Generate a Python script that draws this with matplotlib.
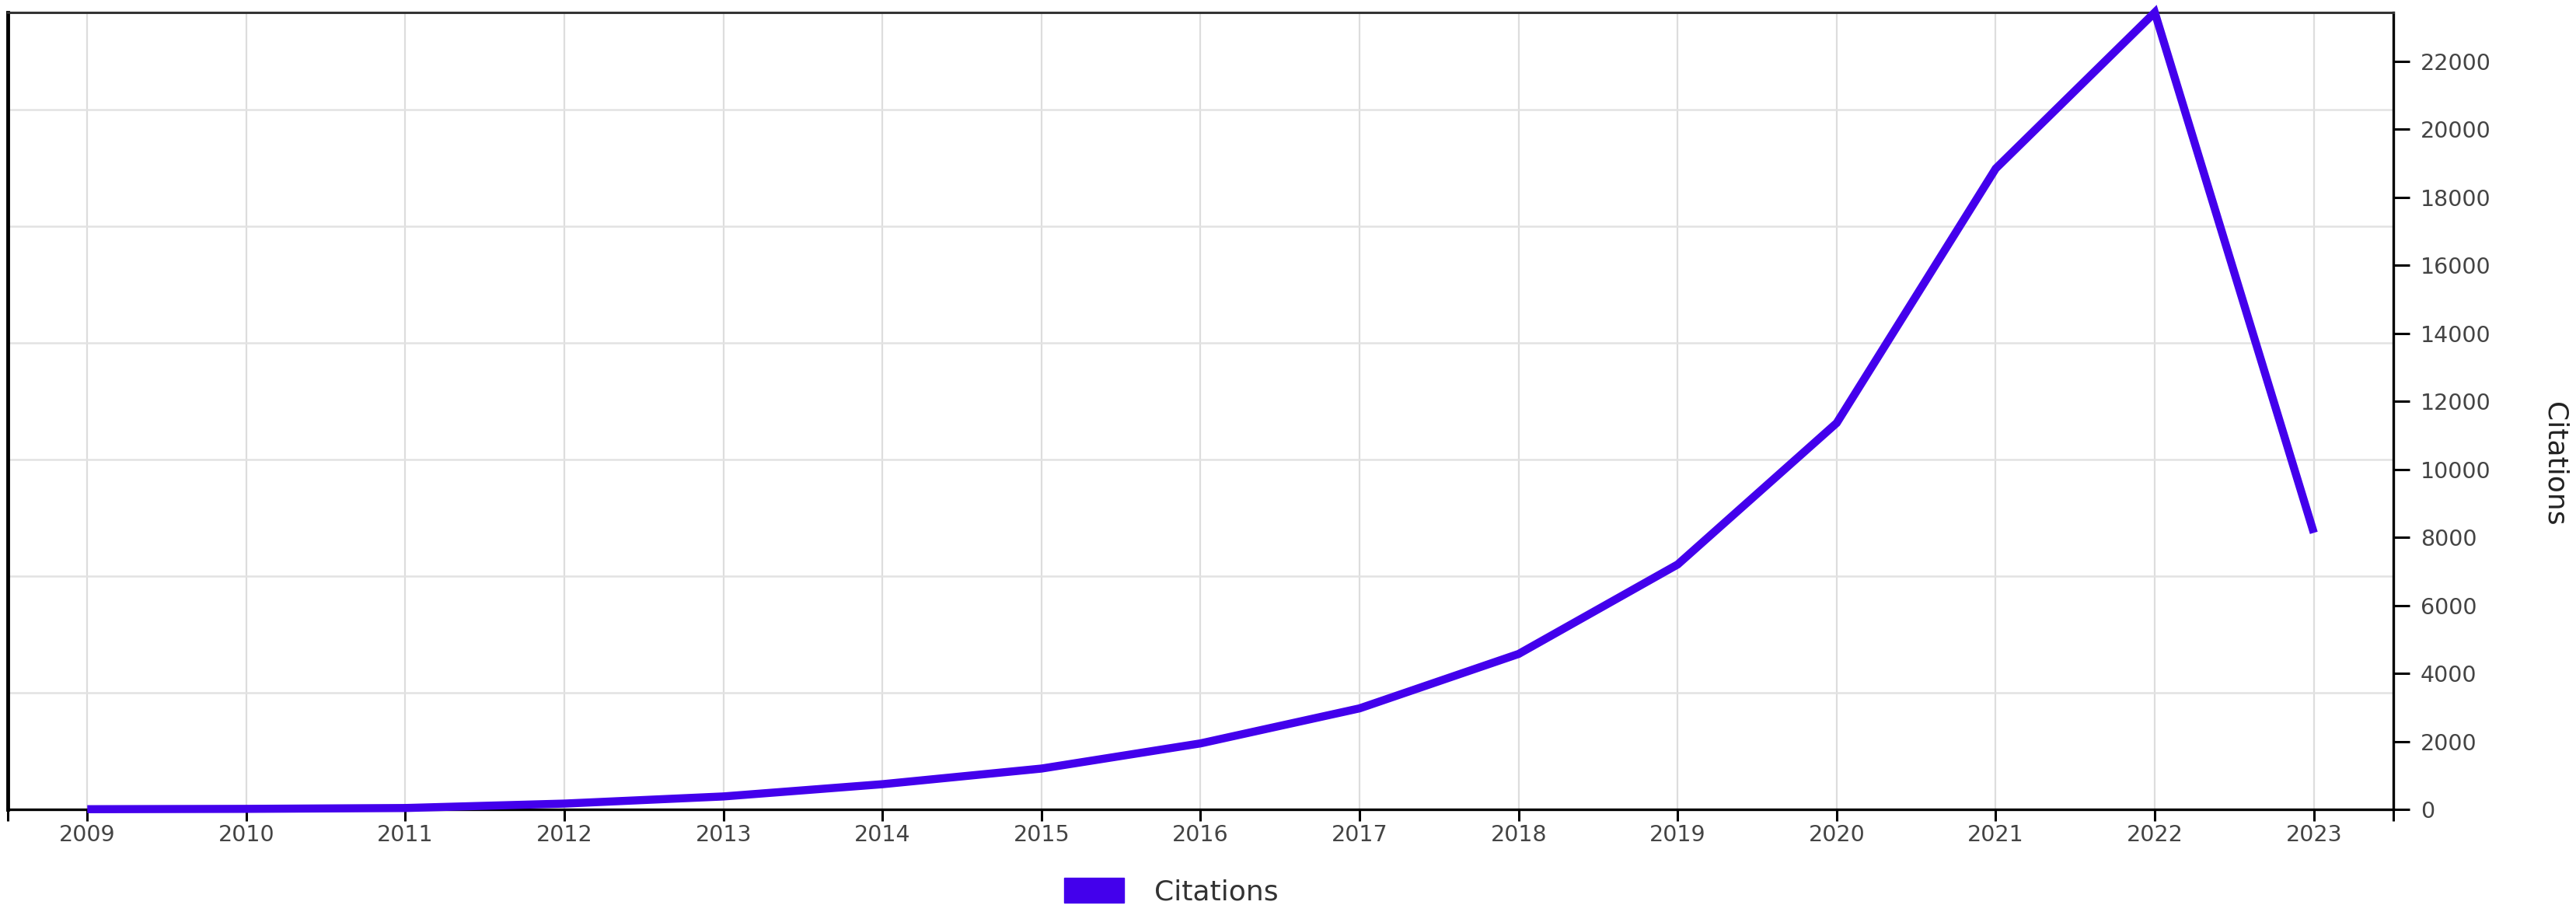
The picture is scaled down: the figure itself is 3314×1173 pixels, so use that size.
import matplotlib
matplotlib.use("Agg")
import matplotlib.pyplot as plt
from matplotlib.patches import Patch
from matplotlib.ticker import FixedLocator, MultipleLocator

# datos
years = [2009, 2010, 2011, 2012, 2013, 2014, 2015, 2016, 2017, 2018, 2019, 2020, 2021, 2022, 2023]
citations = [5, 15, 40, 170, 380, 740, 1200, 1940, 2970, 4570, 7200, 11360, 18840, 23430, 8130]
y_ticks = list(range(0, 22001, 2000))
line_color = '#4300ec'

fig = plt.figure(figsize=(33.14, 11.73), dpi=100)
ax = fig.add_axes([10 / 3314, 132 / 1173, 3069 / 3314, 1025 / 1173])

ax.plot(years, citations, color=line_color, lw=7.5, solid_joinstyle='miter',
        solid_capstyle='butt', clip_on=False, zorder=3)

ax.set_xlim(2008.5, 2023.5)
ax.set_ylim(0, max(citations))

# eje x
ax.set_xticks(years)
ax.set_xticklabels([str(y) for y in years])
ax.xaxis.set_minor_locator(FixedLocator([2008.5, 2023.5]))
ax.tick_params(axis='x', which='both', direction='out', length=11, width=2.2,
               color='black', labelsize=20.5, labelcolor='#444444', pad=3)

# eje y a la derecha
ax.yaxis.tick_right()
ax.set_yticks(y_ticks)
ax.yaxis.set_minor_locator(MultipleLocator(3429))
ax.tick_params(axis='y', which='major', direction='out', length=15, width=2.2,
               color='black', labelsize=20.5, labelcolor='#444444', pad=10,
               right=True, left=False)
ax.tick_params(axis='y', which='minor', length=0, right=False, left=False)

# rejilla
ax.grid(axis='x', which='major', color='#dddddd', lw=1.6)
ax.grid(axis='y', which='minor', color='#e2e2e2', lw=1.8)
ax.set_axisbelow(True)

for side in ['bottom', 'right']:
    ax.spines[side].set_color('black')
    ax.spines[side].set_linewidth(2.4)
ax.spines['left'].set_color('black')
ax.spines['left'].set_linewidth(3.5)
ax.spines['top'].set_color('#333333')
ax.spines['top'].set_linewidth(2.2)

fig.text(3286 / 3314, 1 - 597 / 1173, 'Citations', rotation=270, ha='center', va='center',
         fontsize=26, family=['Liberation Sans Narrow', 'DejaVu Sans'], color='#222222')

fig.legend(handles=[Patch(facecolor=line_color, edgecolor=line_color, label='Citations')],
           loc='center', bbox_to_anchor=(1507 / 3314, 1 - 1147 / 1173), frameon=False,
           fontsize=26, handlelength=2.14, handleheight=0.97, handletextpad=1.08,
           labelcolor='#333333')

fig.savefig('out.png', dpi=100)
